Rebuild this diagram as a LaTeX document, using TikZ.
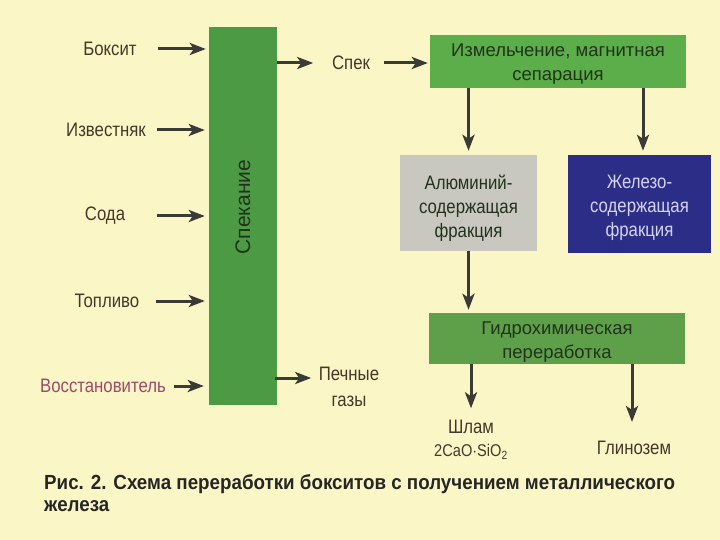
\documentclass[tikz,border=0pt]{standalone}
\usepackage{fontspec}
\setmainfont{Liberation Sans}[FakeStretch=0.86]
\newfontfamily\widefont{Liberation Sans}
\newfontfamily\capfont{Liberation Sans}[FakeStretch=0.92]
\usetikzlibrary{arrows.meta,calc}
\definecolor{bg}{HTML}{FAF6C6}
\definecolor{bargreen}{HTML}{4C9A44}
\definecolor{topgreen}{HTML}{5CAE4A}
\definecolor{botgreen}{HTML}{5EA04A}
\definecolor{grayfill}{HTML}{C9C8C0}
\definecolor{bluefill}{HTML}{2C2D86}
\definecolor{bluetext}{HTML}{D4D4F2}
\definecolor{txt}{HTML}{45382A}
\definecolor{boxtxt}{HTML}{22321C}
\definecolor{pinktxt}{HTML}{9C4A6A}
\definecolor{arrowc}{HTML}{3A3A36}
\tikzset{
  arr/.style={draw=arrowc, line width=3pt, -{Stealth[length=16pt,width=12pt,inset=4pt]}},
  lbl/.style={text=txt, font=\fontsize{19.5}{24}\selectfont, align=center, inner sep=0pt},
  procbox/.style={draw=none, inner sep=0pt},
  boxtext/.style={inner sep=0pt, align=center, font=\widefont\fontsize{18.5}{24}\selectfont, text=boxtxt}
}
\begin{document}
\begin{tikzpicture}[x=1pt,y=-1pt]
\useasboundingbox (0,0) rectangle (720,540);
\fill[bg] (0,0) rectangle (720,540);

% sintering bar
\node[procbox, fill=bargreen, minimum width=68pt, minimum height=378pt] (bar) at (243,216) {};
\node[rotate=90, text=boxtxt, font=\widefont\fontsize{21}{24}\selectfont] (barlbl) at (243,207) {Спекание};

% left inputs
\node[lbl] (bx) at (110,49) {Боксит};
\node[lbl] (izv) at (106,130) {Известняк};
\node[lbl] (soda) at (105,216) {Сода};
\node[lbl] (topl) at (107,301) {Топливо};
\node[lbl, text=pinktxt] (vos) at (103,386) {Восстановитель};

\draw[arr] ($(bar.west |- bx)+(-51,0)$) -- ($(bar.west |- bx)+(-3,0)$);
\draw[arr] ($(bar.west |- izv)+(-52,0)$) -- ($(bar.west |- izv)+(-4,0)$);
\draw[arr] ($(bar.west |- soda)+(-52,0)$) -- ($(bar.west |- soda)+(-4,0)$);
\draw[arr] ($(bar.west |- topl)+(-53,0)$) -- ($(bar.west |- topl)+(-4,0)$);
\draw[arr] ($(bar.west |- vos)+(-35,0)$) -- ($(bar.west |- vos)+(-5,0)$);

% outputs of bar
\node[lbl] (spek) at (351,63) {Спек};
\node[lbl, font=\fontsize{19.5}{26}\selectfont] (gaz) at (349,387) {Печные\\газы};
\draw[arr] (bar.east |- spek) -- ($(bar.east |- spek)+(36,0)$);
\coordinate (gy) at (0,378);
\draw[arr] ($(bar.east |- gy)+(-2,0)$) -- ($(bar.east |- gy)+(34,0)$);

% right chain
\node[procbox, fill=topgreen, minimum width=256pt, minimum height=53pt] (mag) at (558,61.5) {};
\node[boxtext] (magtxt) at ($(mag.center)+(0,3)$) {Измельчение, магнитная\\сепарация};
\draw[arr] ($(spek.east)+(14,0)$) -- ($(mag.west |- spek)+(-2,0)$);

\node[procbox, fill=grayfill, minimum width=137pt, minimum height=96pt] (al) at (468.5,203) {};
\node[boxtext, font=\fontsize{19.5}{24}\selectfont] (altxt) at ($(al.center)+(0,5)$) {Алюминий-\\содержащая\\фракция};
\node[procbox, fill=bluefill, minimum width=143pt, minimum height=98pt] (fe) at (639.5,204) {};
\node[boxtext, text=bluetext, font=\fontsize{19.5}{24}\selectfont] (fetxt) at ($(fe.center)+(0,4)$) {Железо-\\содержащая\\фракция};
\coordinate (fex) at (643,0);
\draw[arr] (mag.south -| al.north) -- ($(al.north)+(0,-4)$);
\draw[arr] (mag.south -| fex) -- ($(fe.north -| fex)+(0,-4)$);

\node[procbox, fill=botgreen, minimum width=256pt, minimum height=51pt] (hyd) at (557,338.5) {};
\node[boxtext] (hydtxt) at ($(hyd.center)+(0,4)$) {Гидрохимическая\\переработка};
\draw[arr] (al.south) -- ($(hyd.north -| al.south)+(0,-3)$);

\node[lbl, font=\fontsize{19.5}{23}\selectfont] (shlam) at (471,440) {Шлам\\{\fontsize{17}{20}\selectfont 2CaO$\cdot$SiO\textsubscript{2}}};
\node[lbl] (glin) at (634,448) {Глинозем};
\coordinate (glx) at (632,0);
\draw[arr] (hyd.south -| shlam.north) -- ($(shlam.north)+(0,-12)$);
\draw[arr] (hyd.south -| glx) -- ($(glin.north -| glx)+(0,-19)$);

% caption
\node[anchor=west, inner sep=0pt, text=black!85, font=\capfont\bfseries\fontsize{20.4}{22}\selectfont] (cap1) at (44,484) {Рис. 2. Схема переработки бокситов с получением металлического};
\node[anchor=west, inner sep=0pt, text=black!85, font=\capfont\bfseries\fontsize{20.4}{22}\selectfont] (cap2) at (44,506) {железа};
\end{tikzpicture}
\end{document}
